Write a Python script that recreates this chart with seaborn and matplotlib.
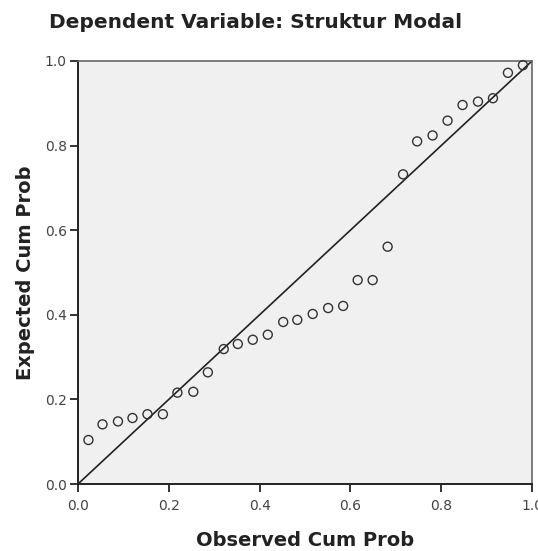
import matplotlib
matplotlib.use("Agg")
import matplotlib.pyplot as plt
import seaborn as sns
import pandas as pd

observed = [0.023, 0.054, 0.088, 0.120, 0.153, 0.187, 0.219, 0.254, 0.286, 0.321,
            0.352, 0.385, 0.418, 0.452, 0.483, 0.517, 0.551, 0.584, 0.616, 0.649,
            0.682, 0.716, 0.747, 0.781, 0.814, 0.847, 0.881, 0.914, 0.947, 0.980]
expected = [0.104, 0.141, 0.148, 0.156, 0.165, 0.165, 0.216, 0.218, 0.264, 0.319,
            0.331, 0.341, 0.353, 0.383, 0.388, 0.402, 0.416, 0.421, 0.482, 0.482,
            0.561, 0.732, 0.810, 0.824, 0.859, 0.896, 0.904, 0.912, 0.972, 0.990]
ticks = [0.0, 0.2, 0.4, 0.6, 0.8, 1.0]
tick_labels = ["0.0", "0.2", "0.4", "0.6", "0.8", "1.0"]

df = pd.DataFrame({"Observed Cum Prob": observed, "Expected Cum Prob": expected})

sns.set_theme(style="white")
plt.rcParams['font.family'] = ['DejaVu Sans']

fig = plt.figure(figsize=(5.38, 5.51), dpi=100)
W, H = 538, 551
ax = fig.add_axes([78 / W, 1 - 484 / H, (532 - 78) / W, (484 - 61) / H])
ax.set_facecolor("#f0f0f0")

ax.plot([0, 1], [0, 1], color="#222222", lw=1.2, zorder=2)
sns.scatterplot(data=df, x="Observed Cum Prob", y="Expected Cum Prob", ax=ax,
                marker="o", s=42, facecolor="none", edgecolor="#333333",
                linewidth=1.0, zorder=3, clip_on=False)

ax.set_xlim(0, 1)
ax.set_ylim(0, 1)
ax.set_xticks(ticks)
ax.set_xticklabels(tick_labels)
ax.set_yticks(ticks)
ax.set_yticklabels(tick_labels)
ax.tick_params(axis="both", direction="out", length=6, width=1.3, color="#222222",
               labelsize=10, labelcolor="#444444", bottom=True, left=True)
ax.tick_params(axis="x", pad=5)
ax.tick_params(axis="y", pad=2)

for side in ["left", "bottom"]:
    ax.spines[side].set_color("#222222")
    ax.spines[side].set_linewidth(1.4)
for side in ["top", "right"]:
    ax.spines[side].set_color("#666666")
    ax.spines[side].set_linewidth(1.2)

ax.set_xlabel("Observed Cum Prob", fontsize=14, fontweight="bold", color="#222222", labelpad=13)
ax.set_ylabel("Expected Cum Prob", fontsize=14, fontweight="bold", color="#222222", labelpad=7)

fig.text(256 / W, 1 - 22 / H, "Dependent Variable: Struktur Modal", ha="center", va="center",
         fontsize=14.5, fontweight="bold", color="#222222")

fig.savefig("out.png", dpi=100)
